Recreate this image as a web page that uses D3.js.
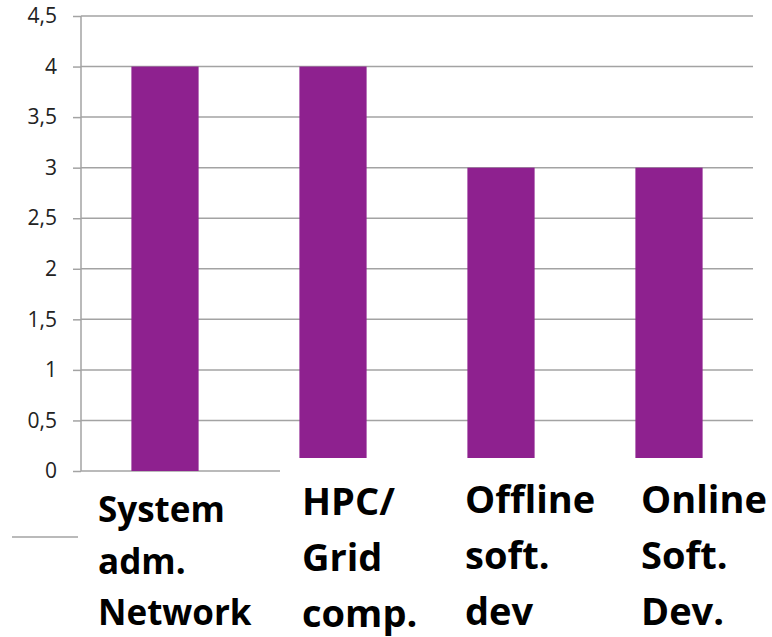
<!DOCTYPE html>
<html>
<head>
<meta charset="utf-8">
<script src="https://cdn.jsdelivr.net/npm/d3@7"></script>
<style>
  html, body { margin: 0; padding: 0; background: #fff; }
  svg { display: block; }
</style>
</head>
<body>
<svg id="chart" width="772" height="637"></svg>
<script>
// ---- data ----
const categories = ["System adm. Network", "HPC/ Grid comp.", "Offline soft. dev", "Online Soft. Dev."];
const categoryLines = [
  ["System", "adm.", "Network"],
  ["HPC/", "Grid", "comp."],
  ["Offline", "soft.", "dev"],
  ["Online", "Soft.", "Dev."]
];
const values = [4, 4, 3, 3];
const tickValues = [0, 0.5, 1, 1.5, 2, 2.5, 3, 3.5, 4, 4.5];
const tickLabels = ["0", "0,5", "1", "1,5", "2", "2,5", "3", "3,5", "4", "4,5"];

// ---- layout ----
const W = 772, H = 637;
const plot = { left: 81, right: 753, top: 16, bottom: 471 };
const labelLayout = [
  { dx: 17, size: 35, base: 522, lead: 51.5 },
  { dx: 53, size: 38, base: 515, lead: 56 },
  { dx: 48, size: 38, base: 513, lead: 56 },
  { dx: 56, size: 38, base: 513, lead: 56 }
];
const barColor = "#8e218f";
const gridColor = "#a3a3a3";

const svg = d3.select("#chart");

const x = d3.scaleBand().domain(categories).range([plot.left, plot.right]).paddingInner(0.6).paddingOuter(0.3);
const xb = d3.scaleBand().domain(categories).range([plot.left, plot.right]);
const y = d3.scaleLinear().domain([0, 4.5]).range([plot.bottom, plot.top]);

// gridlines
svg.append("g")
  .selectAll("line")
  .data(tickValues.filter(v => v > 0))
  .join("line")
  .attr("x1", plot.left).attr("x2", plot.right)
  .attr("y1", d => y(d)).attr("y2", d => y(d))
  .attr("stroke", gridColor).attr("stroke-width", 1.5);

// y axis
const yAxis = d3.axisLeft(y)
  .tickValues(tickValues)
  .tickFormat((d, i) => tickLabels[i])
  .tickSize(8)
  .tickPadding(16);
const gy = svg.append("g").attr("transform", `translate(${plot.left},0)`).call(yAxis);
gy.select(".domain").attr("stroke", gridColor).attr("stroke-width", 1.5)
  .attr("d", `M0,${plot.top}V${plot.bottom}`);
gy.selectAll(".tick line").attr("stroke", gridColor).attr("stroke-width", 1.5);
gy.selectAll(".tick text")
  .attr("fill", "#222")
  .style("font-family", "'Open Sans', sans-serif")
  .style("font-size", "21px");

// baseline (x axis)
svg.append("line")
  .attr("x1", plot.left).attr("x2", plot.right)
  .attr("y1", y(0)).attr("y2", y(0))
  .attr("stroke", gridColor).attr("stroke-width", 1.5);

// bars
svg.append("g")
  .selectAll("rect")
  .data(values)
  .join("rect")
  .attr("x", (d, i) => x(categories[i]))
  .attr("width", x.bandwidth())
  .attr("y", d => y(d))
  .attr("height", d => y(0) - y(d))
  .attr("fill", barColor);

// white label box overlaying the lower right part of the chart
svg.append("rect")
  .attr("x", 280).attr("y", 458)
  .attr("width", W - 280).attr("height", H - 458)
  .attr("fill", "#fff");

// stray rule at the left
svg.append("line")
  .attr("x1", 12).attr("x2", 78)
  .attr("y1", 537).attr("y2", 537)
  .attr("stroke", gridColor).attr("stroke-width", 1.5);

// category labels
const lab = svg.append("g")
  .style("font-family", "'Open Sans', sans-serif")
  .style("font-weight", "bold")
  .attr("fill", "#000");
categoryLines.forEach((lines, i) => {
  const L = labelLayout[i];
  const t = lab.append("text")
    .attr("x", xb(categories[i]) + L.dx)
    .attr("y", L.base)
    .style("font-size", L.size + "px");
  lines.forEach((ln, j) => {
    t.append("tspan")
      .attr("x", xb(categories[i]) + L.dx)
      .attr("y", L.base + j * L.lead)
      .text(ln);
  });
});
</script>
</body>
</html>
